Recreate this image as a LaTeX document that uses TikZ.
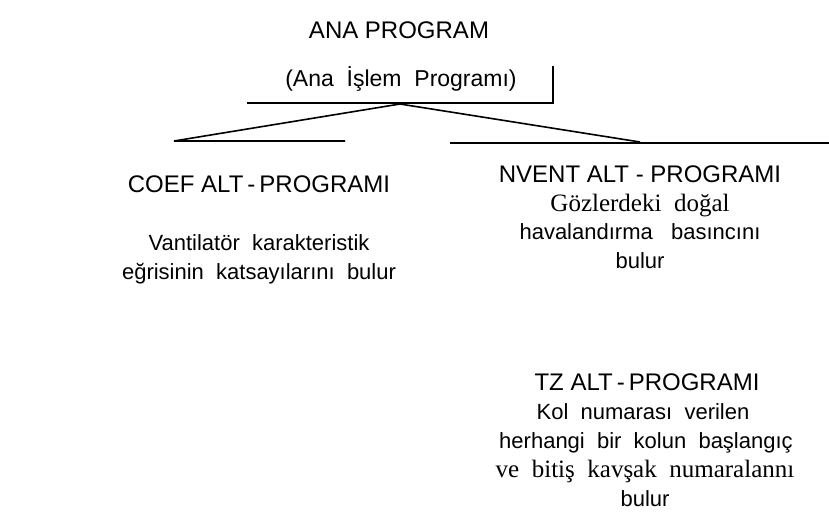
\documentclass[tikz,border=0pt]{standalone}
\usepackage{fontspec}
\setmainfont{Liberation Sans}
\newfontfamily\serifx{Liberation Serif}
\begin{document}
\begin{tikzpicture}[x=1pt,y=-1pt,
  lbl/.style={anchor=base,inner sep=0pt,font=\fontsize{22}{26}\selectfont},
  hlbl/.style={anchor=base,inner sep=0pt,font=\fontsize{24}{28}\selectfont},
  slbl/.style={anchor=base,inner sep=0pt,font=\fontsize{25}{29}\selectfont\serifx},
  ln/.style={line width=1.6pt,line cap=butt}]
\useasboundingbox (0,0) rectangle (829,523);
% texts
\node[hlbl] (t0) at (399,38) {ANA PROGRAM};
\node[lbl,font=\fontsize{23}{27}\selectfont] (t1) at (401,86) {(Ana \ İşlem \ Programı)};
\node[hlbl] (c0) at (259,192) {COEF ALT\,-\,PROGRAMI};
\node[lbl] (c1) at (259,250) {Vantilatör \ karakteristik};
\node[lbl] (c2) at (259,279) {eğrisinin \ katsayılarını \ bulur};
\node[hlbl] (n0) at (640,182) {NVENT ALT - PROGRAMI};
\node[slbl] (n1) at (640,211) {Gözlerdeki \ doğal};
\node[lbl] (n2) at (640,239) {havalandırma \ \ basıncını};
\node[lbl] (n3) at (640,268) {bulur};
\node[hlbl] (z0) at (647,390) {TZ ALT\,-\,PROGRAMI};
\node[lbl] (z1) at (643,419) {Kol \ numarası \ verilen};
\node[lbl] (z2) at (646,448) {herhangi \ bir \ kolun \ başlangıç};
\node[slbl] (z3) at (645,477) {ve \ bitiş \ kavşak \ numaralannı};
\node[lbl] (z4) at (645,506) {bulur};
% connector points
\coordinate (bl) at (247,103);
\coordinate (br) at (553,103);
\coordinate (bt) at (553,66);
\coordinate (apex) at (400,104);
\coordinate (le) at (174,141);
\coordinate (lh) at (345,141);
\coordinate (re) at (640,142);
\coordinate (rs) at (450,143);
\coordinate (rh) at (829,143);
\draw[ln] (bl) -- (br) -- (bt);
\draw[ln] (apex) -- (le) -- (lh);
\draw[ln] (apex) -- (re);
\draw[ln] (rs) -- (rh);
\end{tikzpicture}
\end{document}
